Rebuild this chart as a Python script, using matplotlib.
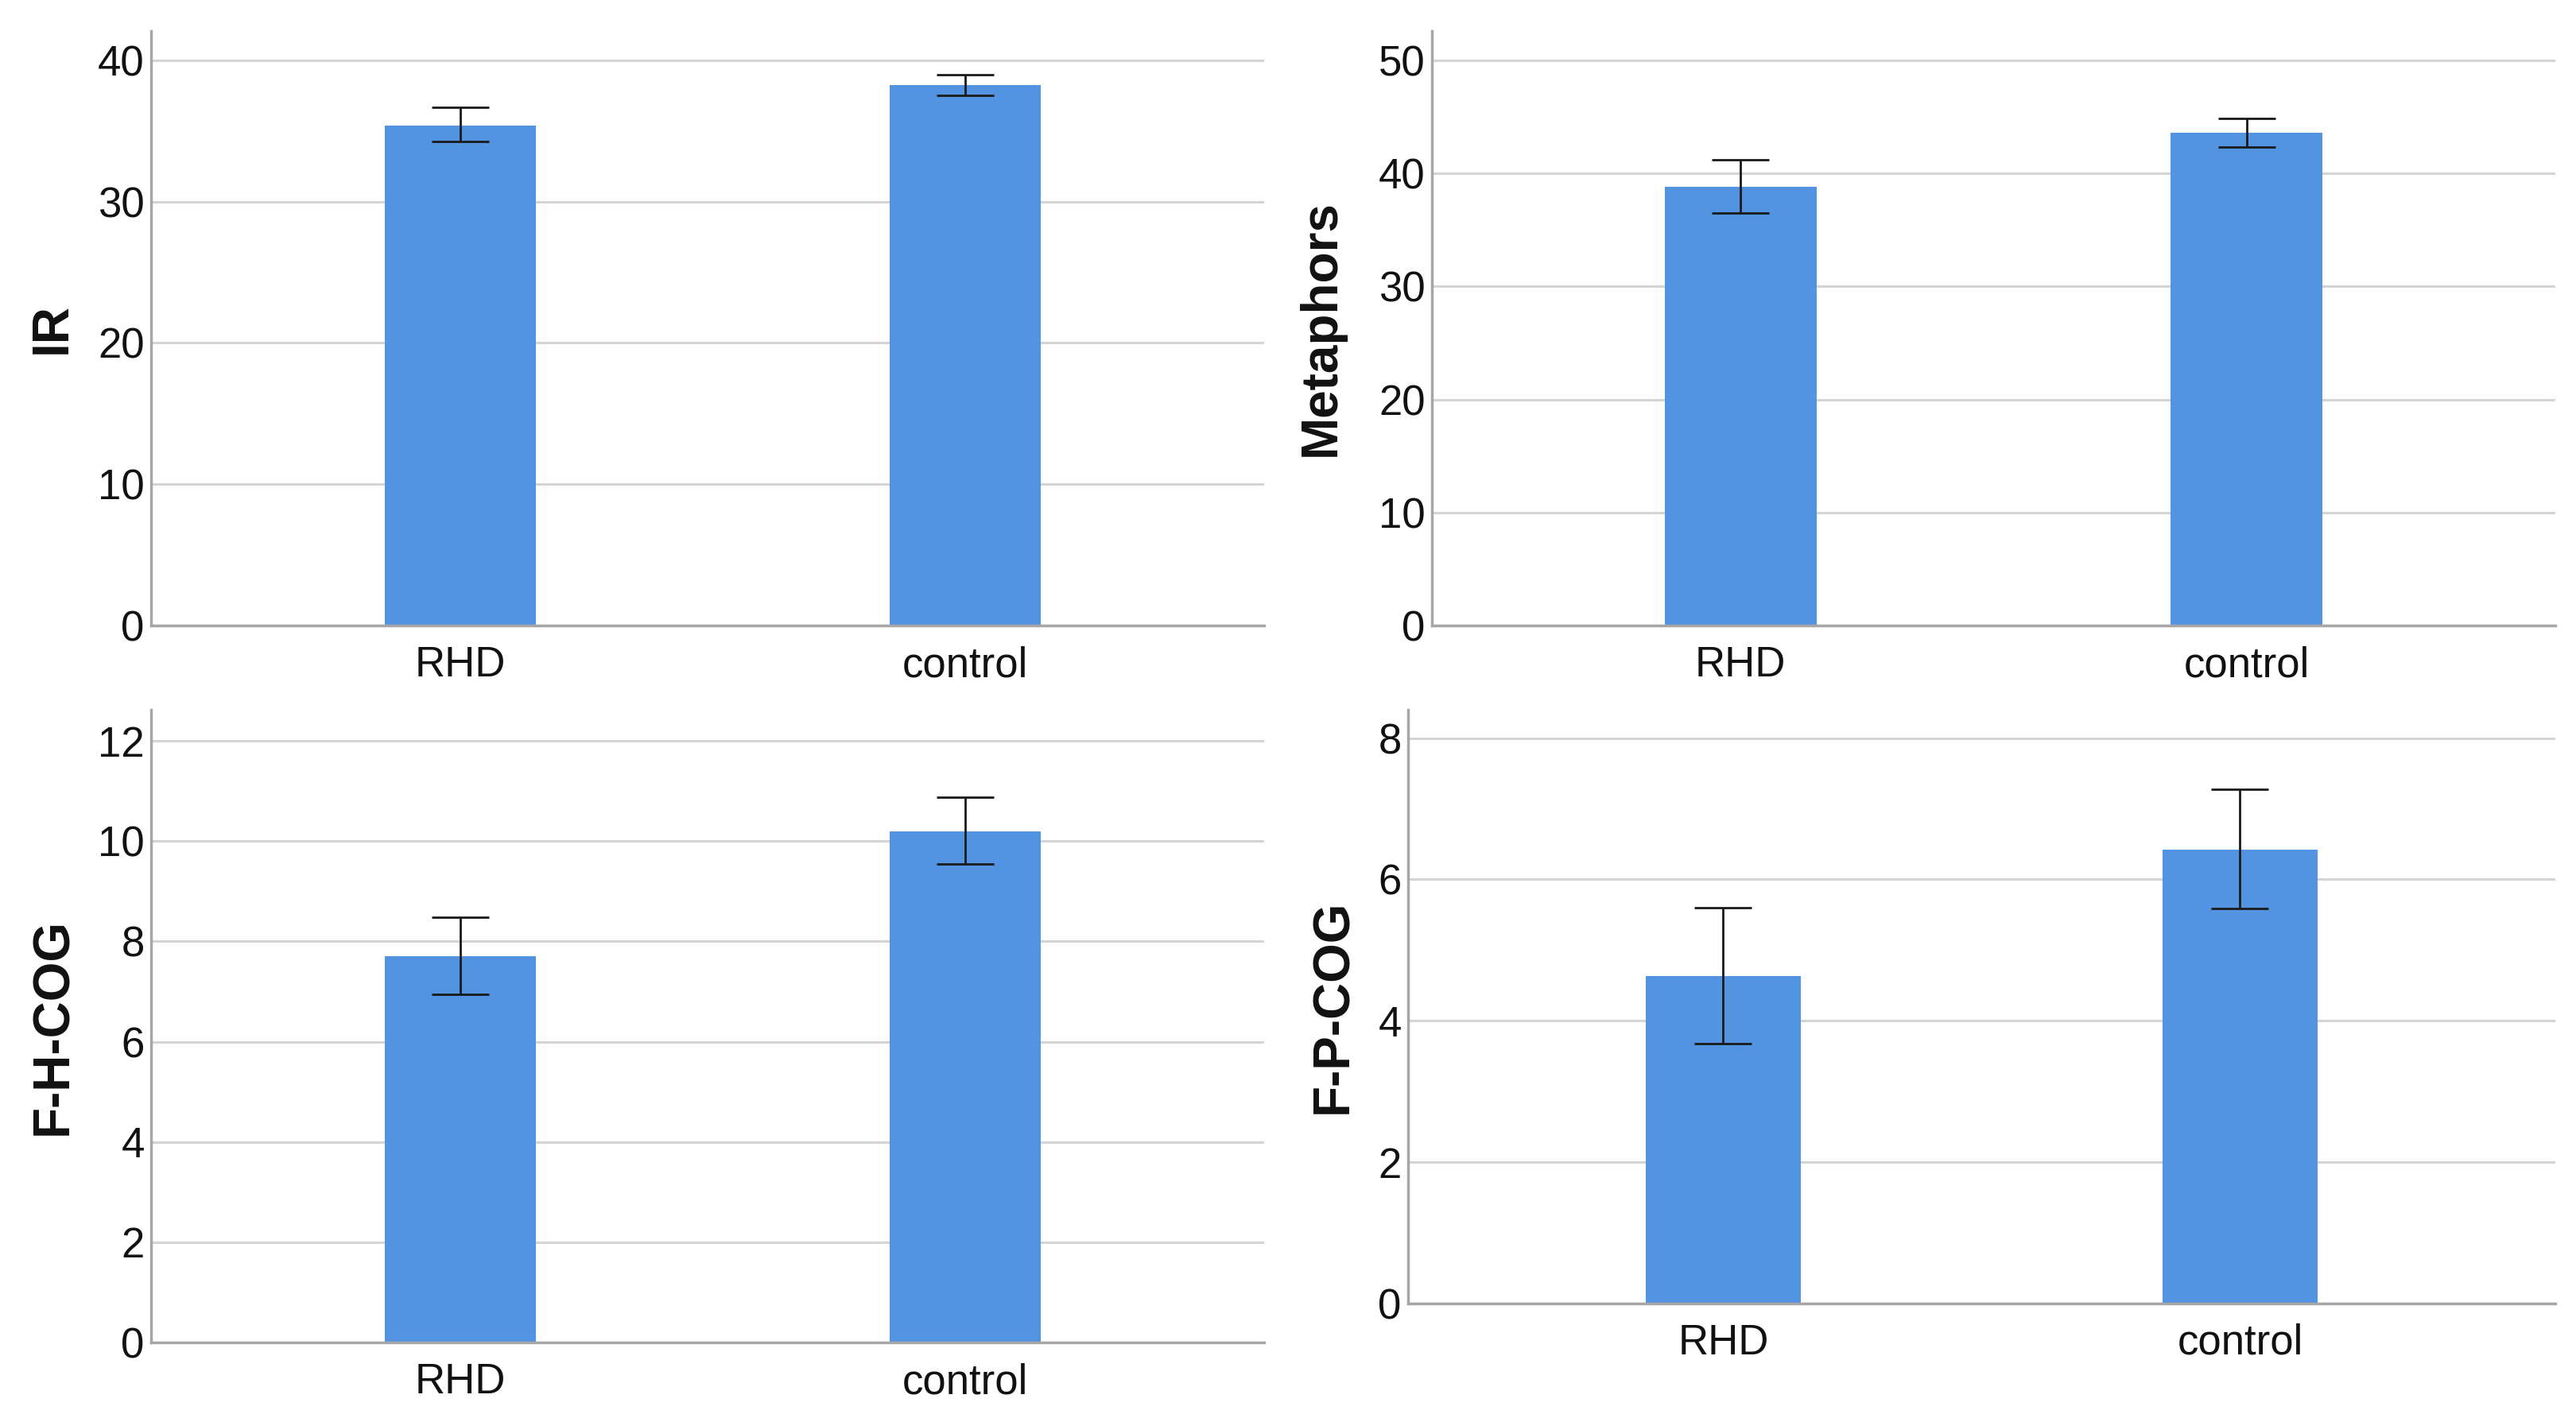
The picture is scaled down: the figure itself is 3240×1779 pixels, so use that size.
import matplotlib
matplotlib.use('Agg')
import matplotlib.pyplot as plt
import numpy as np

plt.rcParams['font.family'] = ['Liberation Sans', 'DejaVu Sans']

groups = ['RHD', 'control']

# means and 95% CI ends
ir_mean = [35.4, 38.25]
ir_low = [34.25, 37.5]
ir_high = [36.7, 39.0]

met_mean = [38.85, 43.6]
met_low = [36.5, 42.35]
met_high = [41.2, 44.85]

fh_mean = [7.71, 10.2]
fh_low = [6.94, 9.54]
fh_high = [8.48, 10.87]

fp_mean = [4.63, 6.42]
fp_low = [3.68, 5.59]
fp_high = [5.6, 7.28]

panels = [
    ('IR', ir_mean, ir_low, ir_high, [0, 10, 20, 30, 40], 42.08),
    ('Metaphors', met_mean, met_low, met_high, [0, 10, 20, 30, 40, 50], 52.6),
    ('F-H-COG', fh_mean, fh_low, fh_high, [0, 2, 4, 6, 8, 10, 12], 12.62),
    ('F-P-COG', fp_mean, fp_low, fp_high, [0, 2, 4, 6, 8], 8.40),
]

# axes rectangles in pixels (W=3241, H=1779)
W, H = 3241, 1779
boxes = [
    (190, 1590, 39, 787),
    (1801, 3214, 39, 787),
    (190, 1590, 893, 1689),
    (1771, 3214, 893, 1640),
]
xlims = [(-0.613, 1.592), (-0.61, 1.61), (-0.613, 1.592), (-0.61, 1.61)]
label_x = [-0.067, -0.077, -0.066, -0.044]

bar_color = '#5394E2'
grid_color = '#D4D4D4'
spine_color = '#A6A6A6'

fig = plt.figure(figsize=(W / 100, H / 100), dpi=100)

for (name, mean, low, high, ticks, top), (l, r, t, b), xl, lx in zip(panels, boxes, xlims, label_x):
    ax = fig.add_axes([l / W, 1 - b / H, (r - l) / W, (b - t) / H])
    x = np.arange(len(groups))
    mean = np.array(mean)
    yerr = [mean - np.array(low), np.array(high) - mean]
    ax.bar(x, mean, width=0.3, color=bar_color, zorder=2)
    ax.errorbar(x, mean, yerr=yerr, fmt='none', ecolor='#1a1a1a',
                elinewidth=2.0, capsize=26, capthick=2.0, zorder=3)
    ax.set_xlim(*xl)
    ax.set_ylim(0, top)
    ax.set_yticks(ticks)
    ax.set_yticklabels([str(v) for v in ticks])
    ax.set_xticks(x)
    ax.set_xticklabels(groups)
    ax.yaxis.grid(True, color=grid_color, linewidth=2.2, zorder=0)
    ax.set_axisbelow(True)
    for s in ['top', 'right']:
        ax.spines[s].set_visible(False)
    for s in ['left', 'bottom']:
        ax.spines[s].set_color(spine_color)
        ax.spines[s].set_linewidth(2.5)
    ax.tick_params(axis='both', length=0, labelsize=38, colors='#111111')
    ax.tick_params(axis='y', pad=6)
    ax.tick_params(axis='x', pad=18)
    ax.set_ylabel(name, fontsize=46, fontweight='bold', color='#111111')
    ax.yaxis.set_label_coords(lx, 0.5)

fig.savefig('out.png', dpi=100)
